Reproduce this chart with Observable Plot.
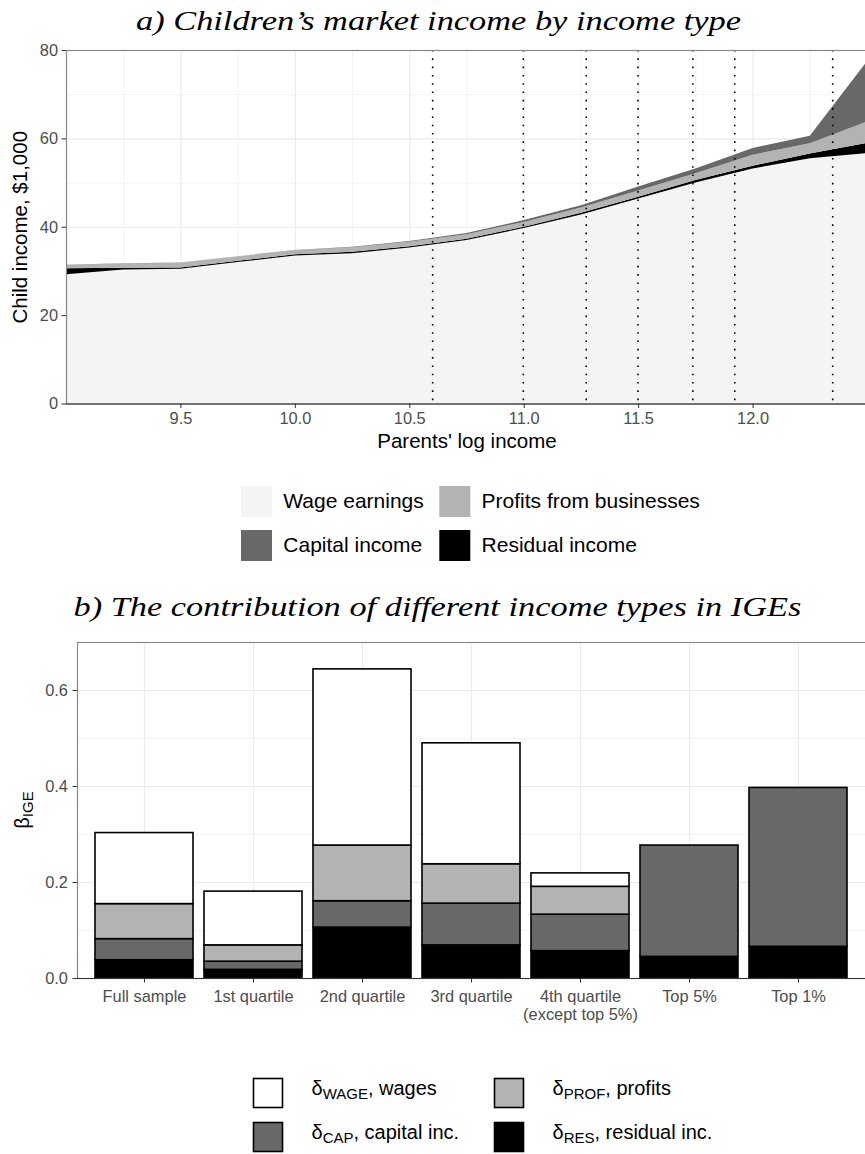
<!DOCTYPE html>
<html><head><meta charset="utf-8">
<script src="https://cdn.jsdelivr.net/npm/d3@7"></script>
<script src="https://cdn.jsdelivr.net/npm/@observablehq/plot@0.6"></script>
<style>
html,body{margin:0;padding:0;background:#fff;overflow:hidden;}
#wrap{position:relative;width:865px;height:1154px;font-family:"Liberation Sans",Arial,Helvetica,sans-serif;}
#wrap > svg{position:absolute;left:0;}
</style></head><body><div id="wrap"></div>
<script>
// ---------- Panel a data ----------
const xs    = [9.0, 9.25, 9.5, 9.75, 10.0, 10.25, 10.5, 10.75, 11.0, 11.25, 11.5, 11.75, 12.0, 12.25, 12.5];
const wage  = [29.25, 30.3, 30.5, 32.0, 33.5, 34.0, 35.3, 37.0, 39.7, 42.8, 46.4, 50.0, 53.2, 55.5, 56.65];
const resid = [1.35, 0.4, 0.25, 0.3, 0.3, 0.35, 0.3, 0.3, 0.3, 0.35, 0.4, 0.6, 0.6, 1.1, 2.35];
const prof  = [0.75, 1.0, 1.1, 1.0, 0.9, 1.0, 1.0, 1.0, 1.1, 1.2, 1.4, 1.5, 2.5, 2.3, 4.8];
const cap   = [0.05, 0.05, 0.05, 0.05, 0.05, 0.1, 0.2, 0.3, 0.4, 0.5, 0.9, 1.1, 1.5, 1.7, 13.7];
const cuts  = [10.6, 10.996, 11.271, 11.497, 11.737, 11.92, 12.348];
const topTypes  = ["Wage earnings", "Residual income", "Profits from businesses", "Capital income"];
const topColors = ["#f4f4f4", "#000000", "#b3b3b3", "#686868"];
const xTicksA = [9.5, 10.0, 10.5, 11.0, 11.5, 12.0];
const xMajorA = [9.0, 9.5, 10.0, 10.5, 11.0, 11.5, 12.0, 12.5];
const xMinorA = [9.25, 9.75, 10.25, 10.75, 11.25, 11.75, 12.25];
const yTicksA = [0, 20, 40, 60, 80];
const yMinorA = [10, 30, 50, 70];
const titleA = "a) Children\u2019s market income by income type";
const xLabelA = "Parents' log income";
const yLabelA = "Child income, $1,000";

// ---------- Panel b data ----------
const cats  = ["Full sample", "1st quartile", "2nd quartile", "3rd quartile", "4th quartile\n(except top 5%)", "Top 5%", "Top 1%"];
const resB  = [0.038, 0.018, 0.106, 0.069, 0.057, 0.045, 0.066];
const capB  = [0.044, 0.017, 0.055, 0.087, 0.076, 0.232, 0.331];
const profB = [0.073, 0.034, 0.116, 0.082, 0.058, 0, 0];
const wageB = [0.148, 0.112, 0.367, 0.252, 0.028, 0, 0];
const botTypes  = ["RES", "CAP", "PROF", "WAGE"];
const botColors = ["#000000", "#686868", "#b3b3b3", "#ffffff"];
const yTicksB = [0, 0.2, 0.4, 0.6];
const yMinorB = [0.1, 0.3, 0.5];
const titleB = "b) The contribution of different income types in IGEs";
const legendB = [["WAGE", ", wages"], ["PROF", ", profits"], ["CAP", ", capital inc."], ["RES", ", residual inc."]];
const legendBFill = ["#ffffff", "#b3b3b3", "#686868", "#000000"];

const FONT = "'Liberation Sans', Arial, Helvetica, sans-serif";
const SERIF = "'Liberation Serif', 'Times New Roman', serif";
const GRID = "#ebebeb";
const wrap = document.getElementById("wrap");

// ---------- Panel a ----------
const series = [wage, resid, prof, cap];
const topRows = xs.flatMap((x, i) => topTypes.map((t, k) => ({x, type: t, v: series[k][i]})));

const plotA = Plot.plot({
  width: 865, height: 470,
  marginTop: 50, marginBottom: 66.5, marginLeft: 66, marginRight: -2,
  style: {fontFamily: FONT, background: "white"},
  x: {domain: [9, 12.5]},
  y: {domain: [0, 80]},
  color: {domain: topTypes, range: topColors},
  marks: [
    Plot.ruleX(xMinorA, {stroke: GRID, strokeWidth: 0.6}),
    Plot.ruleX(xMajorA, {stroke: GRID, strokeWidth: 1.1}),
    Plot.ruleY(yMinorA, {stroke: GRID, strokeWidth: 0.6}),
    Plot.ruleY(yTicksA, {stroke: GRID, strokeWidth: 1.1}),
    Plot.areaY(topRows, {x: "x", y: "v", fill: "type", order: topTypes, curve: "linear", clip: true}),
    Plot.ruleX(cuts, {stroke: "black", strokeWidth: 1.6, strokeDasharray: "1.6,6.7"}),
    Plot.frame({stroke: "#888", strokeWidth: 1.2}),
    Plot.ruleY([0], {stroke: "#333", strokeWidth: 1.1}),
    Plot.axisX({ticks: xTicksA, tickFormat: d => d.toFixed(1), tickSize: 4.5, tickPadding: 4, fontSize: 16.4, stroke: "#333", fill: "#4d4d4d", label: null}),
    Plot.axisY({ticks: yTicksA, tickSize: 4.5, tickPadding: 4, fontSize: 16.4, stroke: "#333", fill: "#4d4d4d", label: null}),
    Plot.text([xLabelA], {text: d => d, frameAnchor: "bottom", dy: 37.5, lineAnchor: "middle", textAnchor: "middle", fontSize: 20.5, fill: "black"}),
    Plot.text([yLabelA], {text: d => d, frameAnchor: "left", dx: -46, rotate: -90, lineAnchor: "middle", textAnchor: "middle", fontSize: 20.5, fill: "black"})
  ]
});
plotA.style.top = "0px";
wrap.appendChild(plotA);

// ---------- Panel b ----------
const seriesB = [resB, capB, profB, wageB];
const botRows = cats.flatMap((c, i) => botTypes.map((t, k) => ({cat: c, type: t, v: seriesB[k][i]})));

const plotB = Plot.plot({
  width: 865, height: 470,
  marginTop: 62, marginBottom: 72, marginLeft: 77, marginRight: -1,
  style: {fontFamily: FONT, background: "white"},
  x: {domain: cats, paddingInner: 0.1, paddingOuter: 0.15},
  y: {domain: [0, 0.7]},
  color: {domain: botTypes, range: botColors},
  marks: [
    Plot.ruleY(yMinorB, {stroke: GRID, strokeWidth: 0.6}),
    Plot.ruleY(yTicksB, {stroke: GRID, strokeWidth: 1.1}),
    Plot.gridX({stroke: GRID, strokeOpacity: 1, strokeWidth: 1.1}),
    Plot.barY(botRows, {x: "cat", y: "v", fill: "type", order: botTypes, stroke: "black", strokeWidth: 1.6}),
    Plot.frame({stroke: "#888", strokeWidth: 1.2}),
    Plot.ruleY([0], {stroke: "#333", strokeWidth: 1.1}),
    Plot.axisX({tickSize: 4.5, tickPadding: 6, fontSize: 16.4, lineHeight: 1.1, stroke: "#333", fill: "#4d4d4d", label: null}),
    Plot.axisY({ticks: yTicksB, tickFormat: d3.format(".1f"), tickSize: 4.5, tickPadding: 5, fontSize: 16.4, stroke: "#333", fill: "#4d4d4d", label: null})
  ]
});
plotB.style.top = "580px";
wrap.appendChild(plotB);

// ---------- Titles, legends, labels ----------
const ov = d3.create("svg").attr("width", 865).attr("height", 1154)
  .style("top", "0px").style("pointer-events", "none").style("font-family", FONT);

ov.append("text").attr("x", 438.5).attr("y", 30).attr("text-anchor", "middle")
  .attr("font-family", SERIF).attr("font-style", "italic").attr("font-size", 28)
  .attr("textLength", 605).attr("lengthAdjust", "spacingAndGlyphs").text(titleA);
ov.append("text").attr("x", 437.5).attr("y", 616).attr("text-anchor", "middle")
  .attr("font-family", SERIF).attr("font-style", "italic").attr("font-size", 28)
  .attr("textLength", 728).attr("lengthAdjust", "spacingAndGlyphs").text(titleB);

// legend a
const legAPos = [[241, 486], [439.3, 486], [241, 530], [439.3, 530]];
const legAOrder = [0, 2, 3, 1]; // wage, profits, capital, residual
legAOrder.forEach((ti, j) => {
  const [lx, ly] = legAPos[j];
  ov.append("rect").attr("x", lx).attr("y", ly).attr("width", 31).attr("height", 31).attr("fill", topColors[ti]);
  ov.append("text").attr("x", lx + 42.3).attr("y", ly + 22.3).attr("font-size", 21).attr("fill", "black").text(topTypes[ti]);
});

// legend b
const legBPos = [[253.5, 1078.5], [494.5, 1078.5], [253.5, 1122.5], [494.5, 1122.5]];
legendB.forEach(([sub, rest], j) => {
  const [lx, ly] = legBPos[j];
  ov.append("rect").attr("x", lx).attr("y", ly).attr("width", 29).attr("height", 29)
    .attr("fill", legendBFill[j]).attr("stroke", "black").attr("stroke-width", 1.6);
  const t = ov.append("text").attr("x", lx + 58).attr("y", ly + 16.5).attr("font-size", 20).attr("fill", "black");
  t.append("tspan").text("\u03b4");
  t.append("tspan").attr("font-size", 15).attr("dy", 4.3).text(sub);
  t.append("tspan").attr("dy", -4.3).text(rest);
});

// beta_IGE label
const bl = ov.append("text").attr("transform", "translate(29,810) rotate(-90)")
  .attr("text-anchor", "middle").attr("font-size", 20).attr("fill", "black");
bl.append("tspan").text("\u03b2");
bl.append("tspan").attr("font-size", 15).attr("dy", 4).text("IGE");

wrap.appendChild(ov.node());
</script></body></html>
